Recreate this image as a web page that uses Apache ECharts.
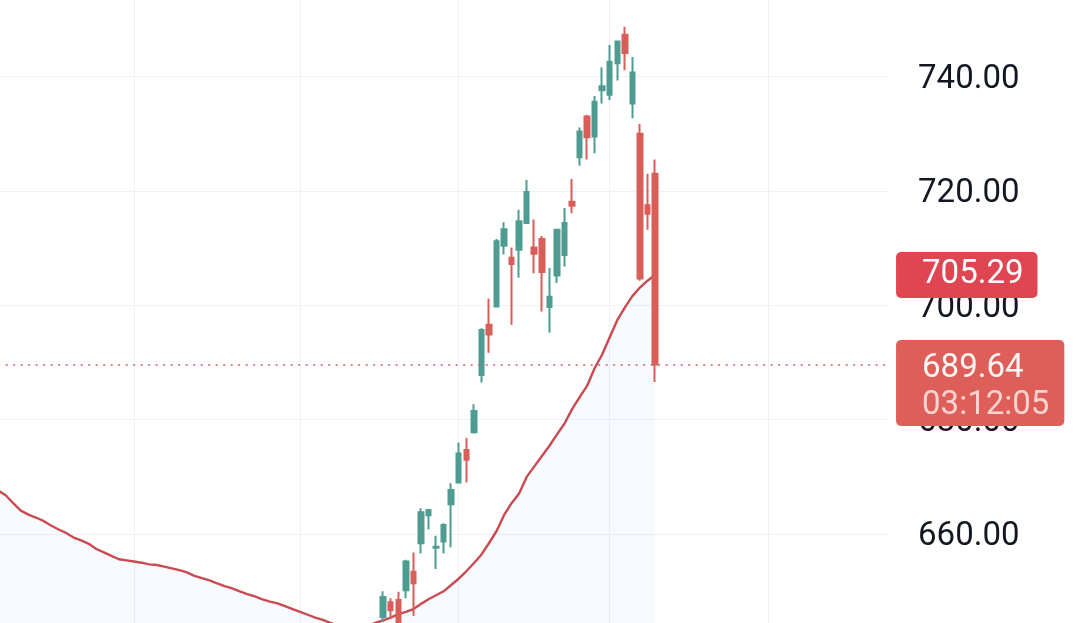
<!DOCTYPE html>
<html>
<head>
<meta charset="utf-8">
<script src="https://cdn.jsdelivr.net/npm/echarts@6.0.0/dist/echarts.min.js"></script>
<style>
html,body{margin:0;padding:0;background:#fff;}
#chart{width:1080px;height:623px;}
</style>
</head>
<body>
<div id="chart"></div>
<script>
// first slot that has a candle inside the visible window
var firstCandle = 51
var openPrices = [645.5,648.1,648.5,650.2,653.4,658.4,663.3,657.6,658.7,665.2,
  669.0,674.7,677.8,687.8,696.6,699.8,710.4,708.3,709.7,714.4,
  710.1,711.6,699.7,705.2,708.8,718.1,725.9,733.0,729.5,737.6,
  736.8,742.3,747.3,735.3,730.0,717.5,723.0]
var closePrices = [649.0,646.7,643.6,655.2,651.4,663.8,664.2,657.8,661.6,667.7,
  674.1,673.0,681.5,695.7,694.9,711.2,713.3,707.2,714.7,719.8,
  709.0,705.8,701.5,713.2,714.4,717.4,730.4,729.4,735.6,738.3,
  742.6,746.1,744.1,740.7,704.7,716.0,689.64]
var lowPrices = [644.6,645.3,642.5,648.8,645.7,656.6,660.8,653.9,656.6,657.7,
  668.9,669.0,677.6,686.5,691.7,699.7,708.9,696.6,704.8,714.3,
  705.6,698.9,695.2,703.9,706.8,716.1,724.4,725.5,726.6,735.3,
  735.9,739.3,741.1,732.7,704.3,713.2,686.6]
var highPrices = [650.0,648.8,649.9,655.5,656.8,664.5,664.4,659.7,661.9,668.9,
  676.0,676.8,682.7,696.0,701.2,711.6,714.5,710.1,716.7,721.9,
  715.0,712.1,706.5,713.3,717.0,722.1,731.1,733.3,736.6,741.6,
  745.5,746.3,748.7,743.4,731.7,723.0,725.5]
// moving average, one value per slot from the left edge
var maValues = [667.6,666.8,665.4,664.1,663.4,662.9,662.3,661.5,660.8,660.2,
  659.4,658.9,658.3,657.4,656.8,656.2,655.6,655.4,655.2,655.0,
  654.7,654.6,654.3,654.0,653.7,653.3,652.7,652.3,651.9,651.4,
  650.9,650.5,650.0,649.5,649.1,648.6,648.2,647.9,647.4,646.9,
  646.4,645.9,645.4,645.0,644.5,644.0,643.8,643.7,643.8,644.0,
  644.5,644.9,645.4,646.0,646.4,646.9,647.8,648.6,649.3,650.0,
  651.1,652.2,653.5,654.9,656.4,658.4,660.5,663.3,665.4,667.1,
  670.0,671.8,673.6,675.4,677.4,679.3,681.8,683.9,685.9,689.0,
  691.4,694.4,697.4,699.6,701.6,703.1,704.3,705.29]
var futureSlots = 31
var monthLines = [18, 40, 61, 81, 102]
var yMin = 640, yMax = 760, yStep = 20
var lastPrice = 689.64
var countdown = '03:12:05'

var total = maValues.length + futureSlots
var slots = []
for (var i = 0; i < total; i++) slots.push('s' + i)
var candles = []
for (var i = 0; i < maValues.length; i++) {
  var k = i - firstCandle
  if (k < 0) candles.push('-')
  else candles.push([openPrices[k], closePrices[k], lowPrices[k], highPrices[k]])
}

var up = '#4f9c91', down = '#d85f59'
var chart = echarts.init(document.getElementById('chart'), null, {renderer: 'canvas'})
var option = {
  animation: false,
  backgroundColor: '#ffffff',
  grid: {left: -1.85, right: 190.95, top: -37.9, bottom: -25.5, containLabel: false, outerBoundsMode: 'none'},
  xAxis: {
    type: 'category',
    data: slots,
    boundaryGap: false,
    axisLine: {show: false},
    axisTick: {show: false},
    axisLabel: {show: false},
    splitLine: {
      show: true,
      interval: function (idx) { return monthLines.indexOf(idx) >= 0 },
      lineStyle: {color: '#eff1f4', width: 1}
    }
  },
  yAxis: {
    type: 'value',
    position: 'right',
    min: yMin, max: yMax, interval: yStep,
    axisLine: {show: false},
    axisTick: {show: false},
    axisLabel: {
      margin: 29,
      formatter: function (v) { return '{v|' + v.toFixed(2) + '}' },
      rich: {
        v: {fontSize: 33, fontFamily: 'Roboto', color: '#131722', padding: [6, 0, 0, 0]}
      }
    },
    splitLine: {lineStyle: {color: '#eff1f4', width: 1}}
  },
  series: [
    {
      type: 'line',
      data: maValues,
      symbol: 'none',
      showSymbol: false,
      silent: true,
      z: 1,
      lineStyle: {color: '#c94b51', width: 2.4},
      areaStyle: {color: 'rgba(33,150,243,0.05)', origin: 'start'}
    },
    {
      type: 'candlestick',
      data: candles,
      barWidth: 5,
      z: 2,
      itemStyle: {
        color: up, color0: down,
        borderColor: up, borderColor0: down, borderColorDoji: up,
        borderWidth: 2
      },
      markLine: {
        silent: true,
        symbol: 'none',
        label: {show: false},
        lineStyle: {color: '#c9605c', type: [2, 5.5], width: 1.5},
        data: [{yAxis: lastPrice}]
      }
    }
  ]
}
chart.setOption(option)

// price tags on the scale, placed through the axis
var edge = chart.convertToPixel({xAxisIndex: 0}, slots[total - 1])
var yMa = chart.convertToPixel({yAxisIndex: 0}, maValues[maValues.length - 1])
var yLast = chart.convertToPixel({yAxisIndex: 0}, lastPrice)
chart.setOption({
  graphic: [
    {
      type: 'text', x: edge + 7, y: yMa, z: 100,
      style: {
        text: maValues[maValues.length - 1].toFixed(2),
        fill: '#ffffff', fontSize: 33, fontFamily: 'Roboto',
        backgroundColor: '#e04552', padding: [9, 14, 1, 26], borderRadius: 5,
        verticalAlign: 'middle', lineHeight: 36
      }
    },
    {
      type: 'text', x: edge + 7, y: yLast - 24.5, z: 100,
      style: {
        text: '{p|' + lastPrice.toFixed(2) + '}\n{t|' + countdown + '}',
        backgroundColor: '#de5f5a', padding: [10, 15, 2, 26], borderRadius: 5,
        verticalAlign: 'top',
        rich: {
          p: {fill: '#fff6f5', fontSize: 33, fontFamily: 'Roboto', lineHeight: 37},
          t: {fill: '#fbd3cf', fontSize: 33, fontFamily: 'Roboto', lineHeight: 37}
        }
      }
    }
  ]
})
</script>
</body>
</html>
